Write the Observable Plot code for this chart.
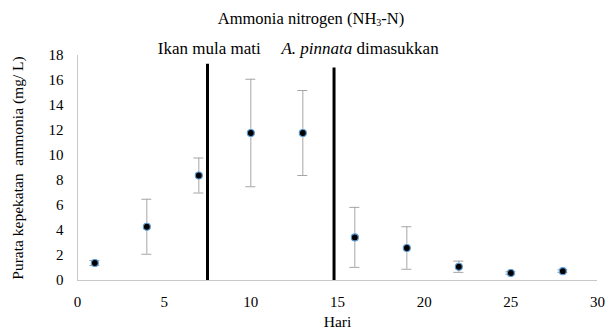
<!DOCTYPE html>
<html>
<head>
<meta charset="utf-8">
<script src="https://cdn.jsdelivr.net/npm/d3@7"></script>
<script src="https://cdn.jsdelivr.net/npm/@observablehq/plot@0.6"></script>
<style>
  html, body { margin: 0; padding: 0; background: #fff; }
  #wrap { position: relative; width: 605px; font-family: "Liberation Serif", "DejaVu Serif", serif; }
  #title { height: 30px; width: 622px; text-align: center; font-size: 16.5px; line-height: 16px; padding-top: 11px; box-sizing: border-box; color: #000; }
  #title sub { font-size: 10px; line-height: 0; vertical-align: -2px; }
</style>
</head>
<body>
<div id="wrap">
  <div id="title">Ammonia nitrogen (NH<sub>3</sub>-N)</div>
  <div id="chart"></div>
</div>
<script>
// Data
const days   = [1, 4, 7, 10, 13, 16, 19, 22, 25, 28];
const means  = [1.4, 4.3, 8.4, 11.8, 11.8, 3.45, 2.6, 1.1, 0.6, 0.75];
const errors = [0.2, 2.2, 1.4, 4.3, 3.4, 2.4, 1.7, 0.45, 0.1, 0.1];

const eventX   = [7.5, 14.8];
const eventTop = [17.3, 17.0];

const annotText = ["Ikan mula mati", "A. pinnata dimasukkan"];
const annotX    = [7.6, 16.3];
const annotY    = [18.55, 18.55];

const xTicks = [0, 5, 10, 15, 20, 25, 30];
const yTicks = [0, 2, 4, 6, 8, 10, 12, 14, 16, 18];

const data = days.map((d, i) => ({day: d, mean: means[i], lo: means[i] - errors[i], hi: means[i] + errors[i]}));
const events = eventX.map((x, i) => ({x, top: eventTop[i]}));
const annots = annotText.map((t, i) => ({t, x: annotX[i], y: annotY[i]}));

const font = "'Liberation Serif', 'DejaVu Serif', serif";
const gray = "#a6a6a6";

const plot = Plot.plot({
  width: 605,
  height: 305,
  marginTop: 25,
  marginBottom: 55,
  marginLeft: 77,
  marginRight: 8,
  style: {fontFamily: font, fontSize: "15px", color: "#000", background: "#fff", overflow: "visible"},
  x: {domain: [0, 30], ticks: xTicks, tickSize: 0, tickPadding: 16, label: null},
  y: {domain: [0, 18], ticks: yTicks, tickSize: 0, tickPadding: 14, label: null},
  marks: [
    Plot.ruleY([0], {x1: 0, x2: 30, stroke: "#c8c8c8", strokeWidth: 1}),
    Plot.ruleX([0], {y1: 0, y2: 18, stroke: "#c8c8c8", strokeWidth: 1}),
    Plot.ruleX(events, {x: "x", y1: 0, y2: "top", stroke: "#000", strokeWidth: 3}),
    Plot.ruleX(data, {x: "day", y1: "lo", y2: "hi", stroke: gray, strokeWidth: 1}),
    Plot.ruleY(data, {y: "hi", x1: "day", x2: "day", insetLeft: -5, insetRight: -5, stroke: gray, strokeWidth: 1}),
    Plot.ruleY(data, {y: "lo", x1: "day", x2: "day", insetLeft: -5, insetRight: -5, stroke: gray, strokeWidth: 1}),
    Plot.dot(data, {x: "day", y: "mean", r: 3.5, fill: "#000", stroke: "#5b9bd5", strokeWidth: 1.2}),
    Plot.text(annots, {x: "x", y: "y", text: "t", fontSize: 17, fill: "#000", clip: false}),
    Plot.text(["Purata kepekatan\u00a0 ammonia (mg/ L)"], {frameAnchor: "left", textAnchor: "middle", dx: -59, rotate: -90, fontSize: 15.5, fill: "#000"}),
    Plot.text(["Hari"], {frameAnchor: "bottom", dy: 46, fontSize: 15.5, fill: "#000"})
  ]
});

document.getElementById("chart").appendChild(plot);

// Italicise the species name inside the annotation
d3.select(plot).selectAll("text").each(function() {
  const el = d3.select(this);
  if (el.text() === "A. pinnata dimasukkan") {
    el.text(null);
    el.append("tspan").attr("font-style", "italic").text("A. pinnata");
    el.append("tspan").text(" dimasukkan");
  }
});
</script>
</body>
</html>
